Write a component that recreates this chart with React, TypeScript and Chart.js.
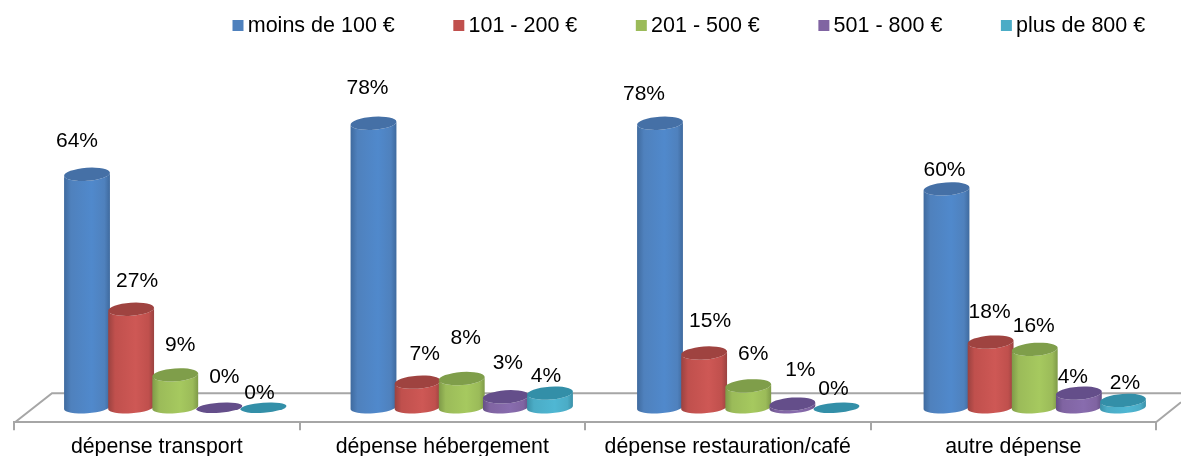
import React, { useEffect, useRef } from "react";
import { Chart, registerables } from "chart.js";

Chart.register(...registerables);

const categories = ["dépense transport", "dépense hébergement", "dépense restauration/café", "autre dépense"];
const seriesNames = ["moins de 100 €", "101 - 200 €", "201 - 500 €", "501 - 800 €", "plus de 800 €"];
const moins100 = [64, 78, 78, 60];
const de101a200 = [27, 7, 15, 18];
const de201a500 = [9, 8, 6, 16];
const de501a800 = [0, 3, 1, 4];
const plus800 = [0, 4, 0, 2];
const seriesValues = [moins100, de101a200, de201a500, de501a800, plus800];

const baseColors = ["#4F81BD", "#C0504D", "#9BBB59", "#8064A2", "#4BACC6"];
const edgeColors = ["#3F6A9E", "#9A4240", "#7E9A48", "#644F85", "#3A90A8"];
const lightColors = ["#5089CC", "#CE5855", "#A6C95F", "#886CAE", "#4FB7D3"];
const capColors = ["#4570A6", "#9F4340", "#7F9E4A", "#644E8A", "#338FA8"];

// label offsets from each bar's top, one row per series
const labelDx = [[-10, -6, -16, -2], [6, 7, 6, -1], [5, 4, 5, -1], [5, 2, 8, -6], [-4, -4, -3, 2]];
const labelDy = [[-34, -36, -30, -20], [-29, -29, -33, -31], [-31, -41, -33, -24], [-32, -35, -35, -17], [-16, -18, -20, -18]];

const FONT = '"Liberation Sans", Arial, sans-serif';
const AXIS = "#A6A6A6";

function legendSwatch(color: string) {
  const c = document.createElement("canvas");
  c.width = 22;
  c.height = 11;
  const g = c.getContext("2d")!;
  g.fillStyle = color;
  g.fillRect(9, 0, 11, 11);
  return c;
}

const project = (x: number, left: number) => 18 + (x - left) * 0.0035;

const cylinders = {
  id: "cylinders",
  beforeLayout(chart: any) {
    const lg = chart.legend;
    if (lg && !lg._wrapped) {
      lg._wrapped = true;
      const fit = lg.fit;
      lg.fit = function () {
        fit.call(this);
        this.height = 0;
      };
    }
  },
  afterLayout(chart: any) {
    const lg = chart.legend;
    lg.left = 174;
    lg.right = 1400;
    lg.top = -43;
    lg.bottom = 100;
  },
  beforeDraw(chart: any) {
    const { ctx, scales } = chart;
    const x = scales.x;
    const front = x.top;
    ctx.save();
    ctx.strokeStyle = AXIS;
    ctx.lineWidth = 2;
    ctx.beginPath();
    ctx.moveTo(x.left + 1, front);
    ctx.lineTo(x.left + 38, front - 29);
    ctx.lineTo(chart.width, front - 29);
    ctx.moveTo(x.right, front);
    ctx.lineTo(x.right + 25, front - 20);
    ctx.stroke();
    ctx.restore();
  },
  beforeDatasetsDraw(chart: any) {
    const { ctx, scales } = chart;
    const rot = -0.07;
    seriesValues.forEach((_, s) => {
      const meta = chart.getDatasetMeta(s);
      meta.data.forEach((bar: any) => {
        const cx = bar.x + project(bar.x, scales.x.left);
        const rx = bar.width / 2 + 1;
        const top = bar.y;
        const base = bar.base;
        ctx.save();
        if (base - top > 0.5) {
          const g = ctx.createLinearGradient(cx - rx, 0, cx + rx, 0);
          g.addColorStop(0, edgeColors[s]);
          g.addColorStop(0.15, baseColors[s]);
          g.addColorStop(0.6, lightColors[s]);
          g.addColorStop(0.88, baseColors[s]);
          g.addColorStop(1, edgeColors[s]);
          ctx.fillStyle = g;
          ctx.beginPath();
          ctx.ellipse(cx, base, rx, 5.5, rot, 0, Math.PI);
          ctx.ellipse(cx, top, rx, 6.5, rot, Math.PI, 0, true);
          ctx.closePath();
          ctx.fill();
        }
        ctx.fillStyle = capColors[s];
        ctx.beginPath();
        ctx.ellipse(cx, top, rx, base - top > 0.5 ? 6.5 : 5, rot, 0, Math.PI * 2);
        ctx.fill();
        ctx.restore();
      });
    });
    return false;
  },
  afterDraw(chart: any) {
    const { ctx, scales } = chart;
    ctx.save();
    ctx.font = `21px ${FONT}`;
    ctx.fillStyle = "#000";
    ctx.textAlign = "center";
    ctx.textBaseline = "middle";
    seriesValues.forEach((vals, s) => {
      chart.getDatasetMeta(s).data.forEach((bar: any, i: number) => {
        const cx = bar.x + project(bar.x, scales.x.left);
        ctx.fillText(`${vals[i]}%`, cx + labelDx[s][i], bar.y + labelDy[s][i] + 1);
      });
    });
    ctx.restore();
  },
};

export default function App() {
  const ref = useRef<HTMLCanvasElement>(null);
  useEffect(() => {
    const chart = new Chart(ref.current!, {
      type: "bar",
      data: {
        labels: categories,
        datasets: seriesNames.map((name, s) => ({
          label: name,
          data: seriesValues[s],
          backgroundColor: baseColors[s],
          categoryPercentage: 0.77,
          barPercentage: 1,
        })),
      },
      plugins: [cylinders],
      options: {
        animation: false,
        responsive: false,
        devicePixelRatio: 1,
        layout: { padding: { left: 14, right: 25, top: 43, bottom: -7 } },
        plugins: {
          tooltip: { enabled: false },
          legend: {
            position: "top",
            align: "start",
            labels: {
              boxWidth: 5,
              boxHeight: 11,
              usePointStyle: true,
              padding: 58,
              color: "#000",
              font: { family: FONT, size: 21.5 },
              generateLabels: () =>
                seriesNames.map((n, s) => ({
                  text: n,
                  fillStyle: baseColors[s],
                  strokeStyle: baseColors[s],
                  lineWidth: 0,
                  pointStyle: legendSwatch(baseColors[s]),
                  datasetIndex: s,
                })),
            },
          },
        },
        scales: {
          x: {
            grid: { drawOnChartArea: false, drawTicks: true, tickLength: 8, color: AXIS, lineWidth: 2 },
            border: { color: AXIS, width: 2 },
            ticks: { color: "#000", padding: 5.7, maxRotation: 0, font: { family: FONT, size: 21.3, lineHeight: 1 } },
          },
          y: { display: false, min: -4, max: 100 },
        },
      },
    } as any);
    return () => chart.destroy();
  }, []);
  return (
    <div style={{ position: "fixed", left: 0, top: 0, width: 1181, height: 456, background: "#fff" }}>
      <canvas ref={ref} width={1181} height={456} style={{ display: "block" }} />
    </div>
  );
}
